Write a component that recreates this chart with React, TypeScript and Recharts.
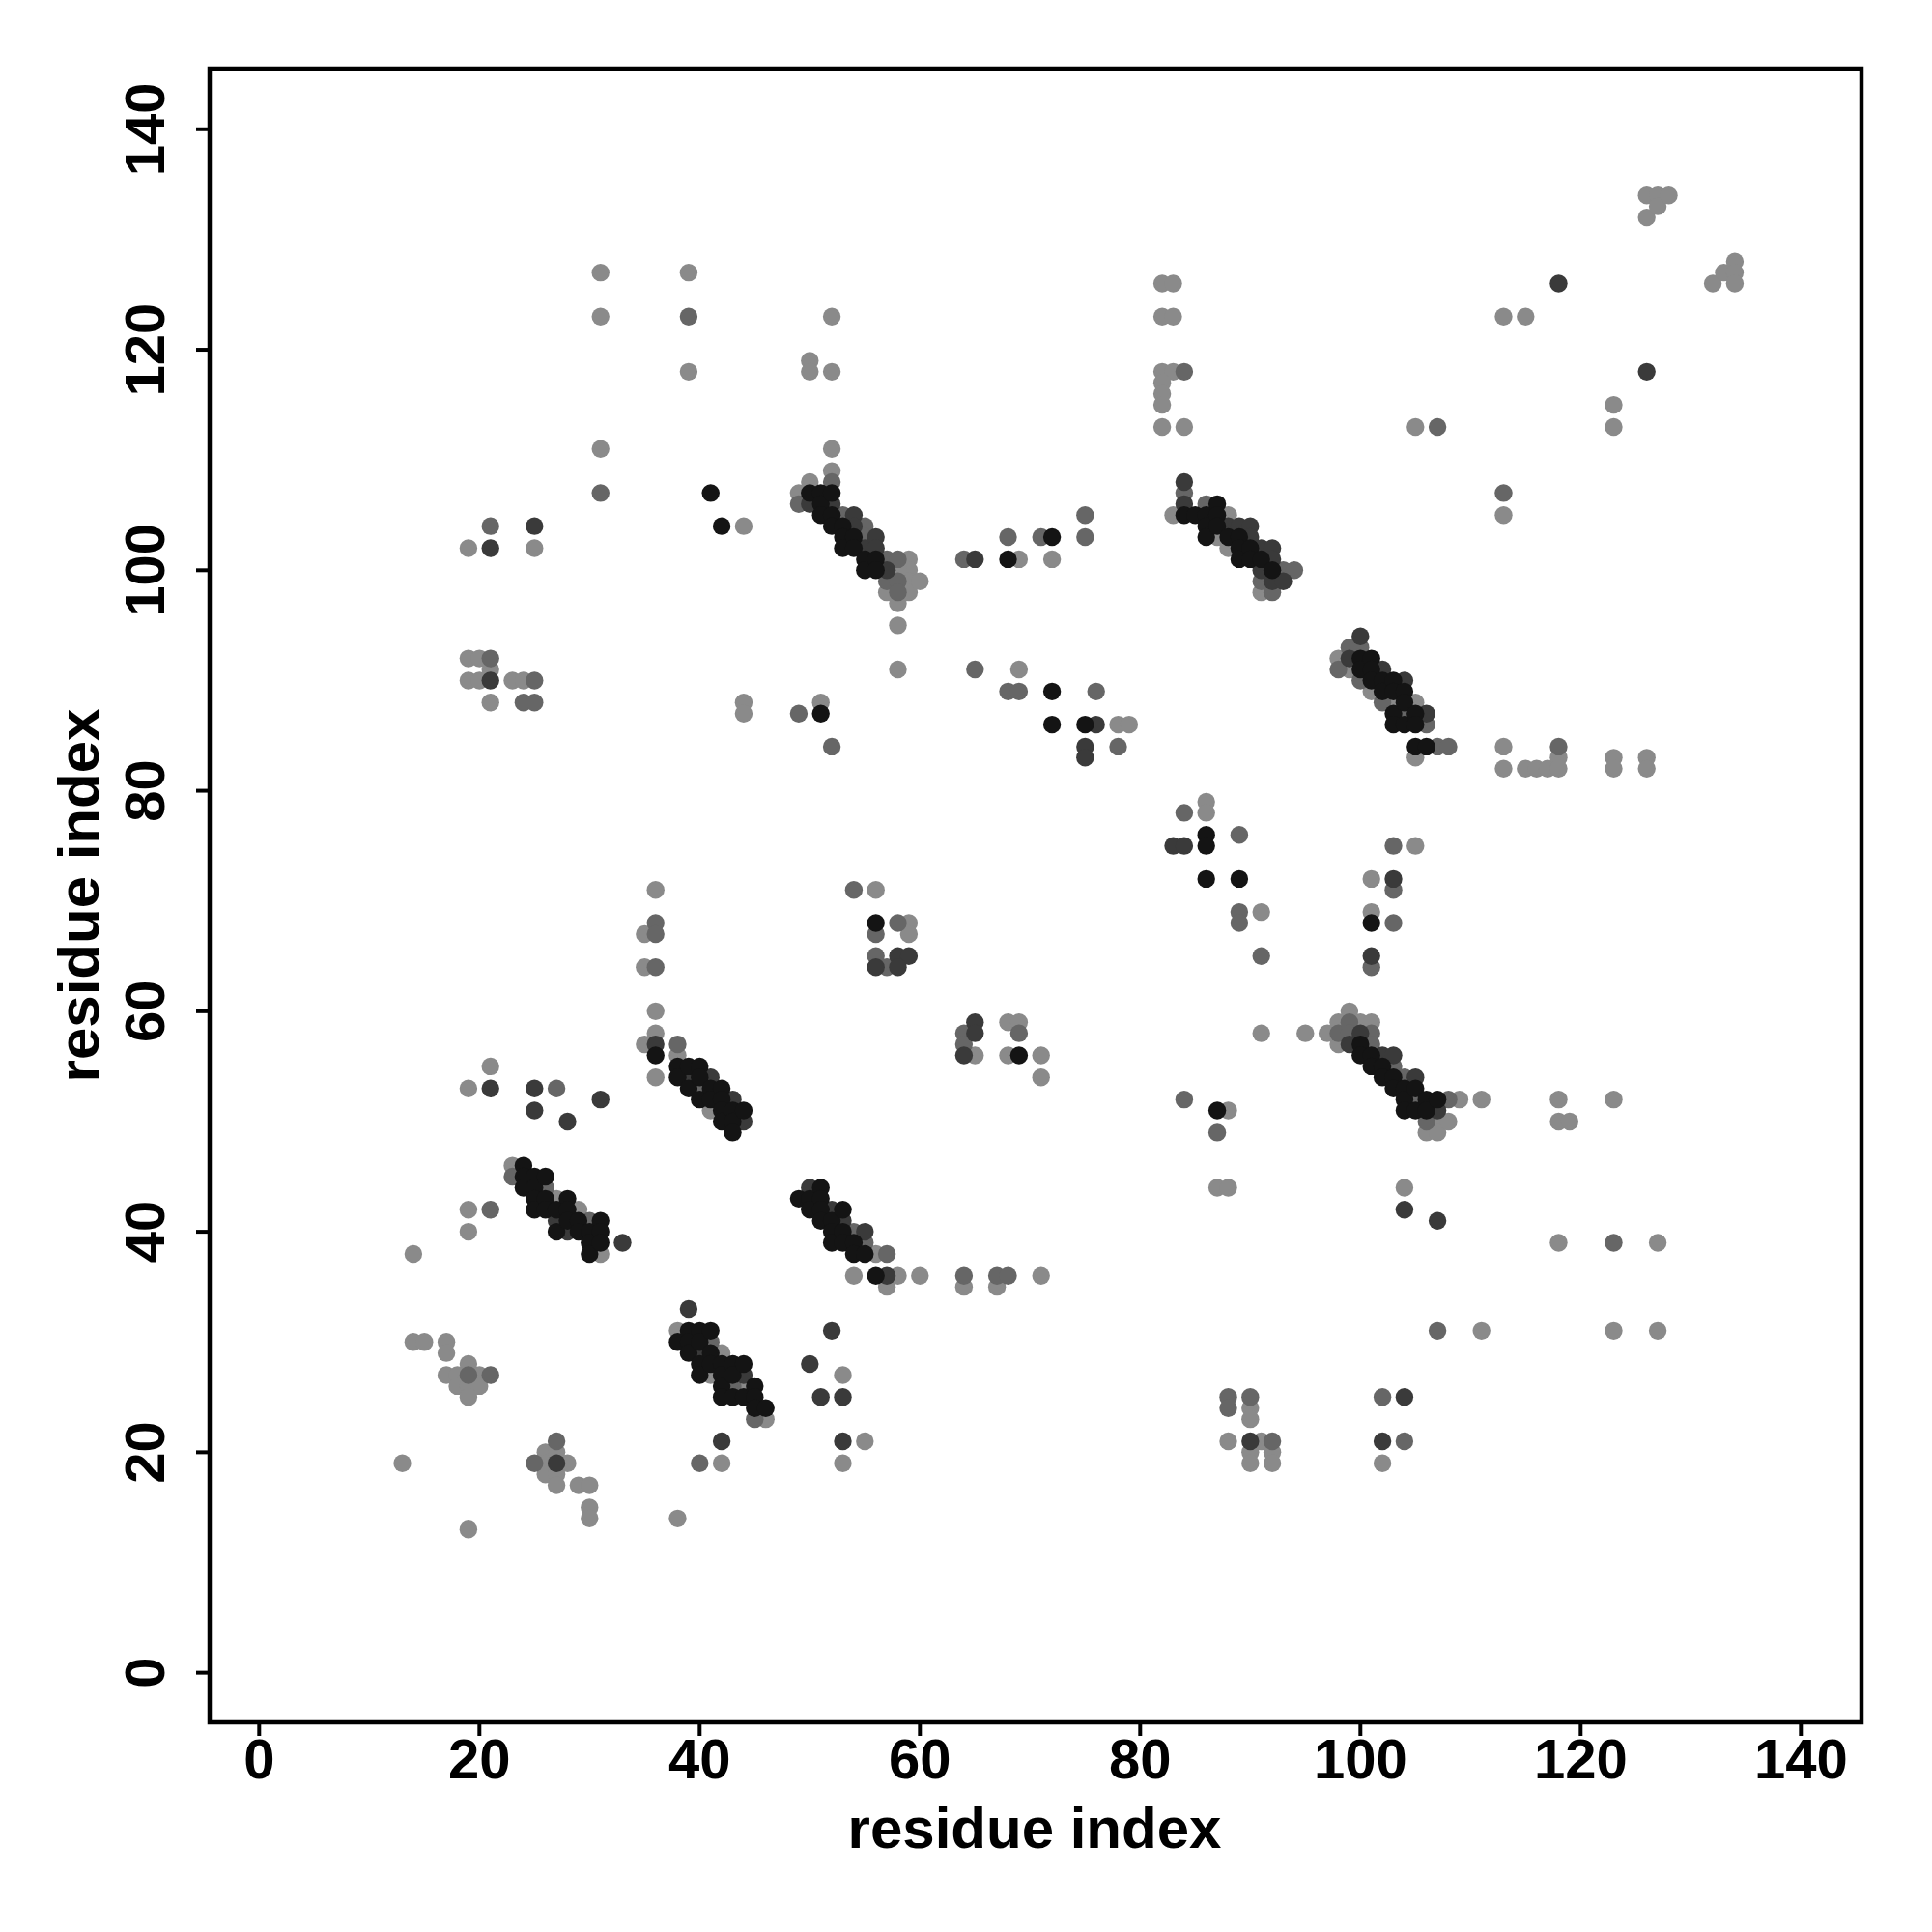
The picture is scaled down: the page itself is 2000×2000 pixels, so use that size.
import { ScatterChart, Scatter, XAxis, YAxis, ReferenceArea } from 'recharts';

// contact pairs [residue i, residue j], grouped by shade
const lightPoints = [
  [31, 127], [31, 123], [31, 111], [39, 127], [39, 118], [19, 102], [25, 102], [44, 104],
  [19, 92], [20, 92], [19, 90], [20, 90], [23, 90], [24, 90], [21, 91], [21, 88],
  [44, 88], [44, 87], [51, 88],
  [49, 107], [50, 108], [57, 98], [58, 97], [58, 95], [59, 101], [59, 100], [59, 99], [59, 98], [60, 99], [58, 100],
  [52, 123], [50, 119], [50, 118], [52, 118], [52, 111], [52, 109],
  [69, 101], [72, 101], [58, 91], [69, 91], [78, 86], [79, 86],
  [82, 126], [83, 126], [82, 123], [83, 123], [82, 118], [83, 118], [82, 117], [82, 116], [82, 115], [82, 113], [84, 113],
  [83, 105], [88, 105], [87, 103], [88, 102], [91, 98],
  [113, 123], [115, 123], [123, 115], [123, 113], [126, 134], [126, 132], [127, 134], [127, 133], [128, 134],
  [132, 126], [133, 127], [134, 128], [134, 127], [134, 126], [105, 113], [113, 105],
  [113, 84], [113, 82], [115, 82], [116, 82], [117, 82], [118, 83], [118, 82], [123, 83], [123, 82], [126, 83], [126, 82],
  [98, 92], [99, 91], [101, 89], [103, 88], [105, 88], [105, 83],
  [86, 79], [86, 78], [91, 69], [105, 75], [101, 72], [101, 69],
  [36, 71], [35, 67], [35, 64], [36, 60], [36, 58], [35, 57], [36, 54], [38, 56],
  [56, 71], [59, 68], [59, 67],
  [68, 59], [69, 59], [65, 56], [68, 56], [71, 56], [71, 54],
  [21, 55], [19, 53], [88, 51], [87, 44], [88, 44],
  [98, 59], [98, 57], [99, 60], [100, 59], [101, 59], [106, 49], [107, 50], [107, 49], [108, 50], [109, 52],
  [91, 58], [95, 58], [97, 58],
  [111, 52], [118, 52], [123, 52], [118, 50], [119, 50], [104, 44], [118, 39], [127, 39], [111, 31], [123, 31], [127, 31],
  [90, 24], [90, 23], [88, 21], [91, 21], [90, 20], [90, 19], [92, 20], [92, 19], [102, 19],
  [19, 42], [19, 40], [14, 38], [14, 30], [15, 30], [17, 30], [17, 29], [19, 28], [17, 27], [18, 27], [20, 27],
  [18, 26], [19, 26], [20, 26], [19, 25], [13, 19], [19, 13], [26, 20], [27, 20], [26, 19], [28, 19], [26, 18],
  [27, 18], [27, 17], [29, 17], [30, 17], [30, 15], [30, 14], [38, 14], [42, 19],
  [53, 27], [53, 19], [55, 21], [41, 51],
  [54, 36], [56, 38], [57, 35], [58, 36], [60, 36], [64, 35], [67, 35], [71, 36],
  [38, 31], [41, 27], [42, 29], [44, 26], [46, 23],
  [23, 46], [27, 43], [29, 42], [31, 38],
];

const midPoints = [
  [31, 107], [39, 123], [21, 104], [21, 92], [25, 90], [24, 88], [25, 88], [49, 87], [52, 84],
  [49, 106], [52, 108], [53, 105], [55, 104], [55, 103], [57, 101], [57, 99], [58, 101], [58, 99], [58, 98],
  [64, 101], [68, 103], [71, 103], [75, 105], [75, 103], [65, 91], [68, 89], [69, 89], [76, 89], [78, 84],
  [84, 118], [84, 107], [86, 106], [91, 99], [92, 98], [93, 100], [94, 100],
  [107, 113], [113, 107], [118, 84],
  [98, 91], [99, 93], [100, 93], [100, 90], [102, 88], [104, 87], [106, 86], [107, 84], [108, 84],
  [84, 78], [89, 76], [89, 69], [89, 68], [91, 65], [103, 75], [103, 71], [103, 68], [101, 64],
  [36, 68], [36, 67], [36, 64], [38, 57],
  [54, 71], [58, 68], [56, 67], [57, 64], [56, 65], [64, 58], [64, 57], [69, 58],
  [27, 53], [84, 52], [87, 49],
  [98, 58], [99, 59], [99, 58], [101, 58], [101, 57], [103, 55], [104, 54], [105, 52], [106, 50], [108, 52],
  [123, 39], [107, 31], [88, 25], [88, 24], [90, 25], [92, 21], [102, 25], [104, 21],
  [21, 42], [19, 27], [21, 27], [27, 21], [25, 19], [40, 19],
  [54, 40], [55, 39], [57, 38], [64, 36], [67, 36], [68, 36],
  [41, 30], [43, 26], [45, 23], [23, 45], [26, 44], [30, 41], [40, 53],
];

const darkPoints = [
  [21, 102], [25, 104], [21, 90],
  [50, 106], [52, 106], [54, 105], [54, 104], [55, 102], [56, 103], [56, 102], [57, 100],
  [65, 101], [76, 86], [75, 84], [75, 83],
  [84, 108], [84, 106], [88, 104], [89, 104], [90, 104], [90, 103], [91, 102], [92, 102], [92, 101], [91, 100], [92, 99], [93, 99],
  [118, 126], [126, 118],
  [99, 92], [100, 94], [102, 91], [104, 90], [106, 87],
  [83, 75], [84, 75], [103, 72], [101, 65], [36, 57],
  [58, 65], [59, 65], [56, 64], [58, 64], [65, 59], [65, 58], [64, 56],
  [21, 53], [25, 53], [25, 51], [28, 50], [31, 52],
  [99, 57], [100, 58], [102, 56], [103, 56], [105, 54], [107, 51],
  [104, 42], [107, 41], [90, 21], [104, 25], [102, 21], [27, 19], [42, 21],
  [52, 31], [50, 28], [51, 25], [53, 25], [53, 21],
  [39, 54], [41, 54], [43, 52], [44, 50],
  [50, 44], [52, 42], [53, 41], [55, 40], [57, 36],
  [39, 33], [40, 29], [44, 27], [27, 41], [28, 40], [33, 39],
];

const blackPoints = [
  [41, 107], [42, 104], [51, 87],
  [50, 107], [51, 107], [51, 106], [51, 105], [52, 107], [52, 105], [52, 104], [53, 104], [53, 103], [53, 102],
  [54, 103], [54, 102], [55, 101], [55, 100], [56, 101], [56, 100],
  [68, 101], [72, 103], [72, 89], [72, 86], [75, 86],
  [84, 105], [85, 105], [86, 105], [86, 104], [86, 103], [87, 106], [87, 105], [87, 104], [88, 103], [89, 103],
  [89, 102], [89, 101], [90, 102], [90, 101], [91, 101], [92, 100],
  [100, 92], [100, 91], [101, 92], [101, 91], [101, 90], [102, 90], [102, 89], [103, 90], [103, 89], [103, 87],
  [103, 86], [104, 89], [104, 88], [104, 86], [105, 87], [105, 86], [105, 84], [106, 84],
  [86, 76], [86, 75], [86, 72], [89, 72], [101, 68], [36, 56], [56, 68], [69, 56], [87, 51],
  [100, 57], [100, 56], [101, 56], [101, 55], [102, 55], [102, 54], [103, 54], [103, 53], [104, 53], [104, 52],
  [104, 51], [105, 53], [105, 51], [106, 52], [106, 51], [107, 52],
  [38, 55], [38, 54], [39, 55], [39, 53], [40, 55], [40, 54], [40, 52], [41, 53], [41, 52], [42, 53], [42, 52],
  [42, 51], [42, 50], [43, 51], [43, 50], [43, 49], [44, 51],
  [49, 43], [50, 43], [50, 42], [51, 44], [51, 43], [51, 42], [51, 41], [52, 41], [52, 40], [52, 39], [53, 42],
  [53, 40], [53, 39], [54, 39], [54, 38], [55, 38], [56, 36],
  [38, 30], [39, 31], [39, 30], [39, 29], [40, 31], [40, 30], [40, 28], [40, 27], [41, 31], [41, 29], [41, 28],
  [42, 28], [42, 27], [42, 26], [42, 25], [43, 28], [43, 27], [43, 25], [44, 28], [44, 25], [45, 26], [45, 25],
  [45, 24], [46, 24],
  [24, 46], [24, 45], [24, 44], [25, 45], [25, 44], [25, 43], [25, 42], [26, 45], [26, 43], [26, 42], [27, 42],
  [27, 40], [28, 43], [28, 42], [28, 41], [29, 41], [29, 40], [30, 40], [30, 39], [30, 38], [31, 41], [31, 40], [31, 39],
];

const axisTicks = [0, 20, 40, 60, 80, 100, 120, 140];
const axisTitle = 'residue index';

const FONT = '"Liberation Sans", Arial, Helvetica, sans-serif';
const DOMAIN: [number, number] = [-4.5, 145.5];

const toXY = (pts: number[][]) => pts.map(([x, y]) => ({ x, y }));

const dot = (fill: string) => (props: any) => (
  <circle cx={props.cx} cy={props.cy} r={9.2} fill={fill} />
);

const XTick = ({ x, payload }: any) => (
  <text x={x} y={1833} textAnchor="middle" fontFamily={FONT} fontWeight="bold" fontSize={58} fill="#000">
    {payload.value}
  </text>
);

const YTick = ({ y, payload }: any) => (
  <text
    x={162}
    y={y}
    transform={`rotate(-90 162 ${y})`}
    textAnchor="middle"
    fontFamily={FONT}
    fontWeight="bold"
    fontSize={58}
    fill="#000"
  >
    {payload.value}
  </text>
);

export default function App() {
  return (
    <div style={{ position: 'relative', width: 2000, height: 1992 }}>
      <ScatterChart width={2000} height={1992} margin={{ top: 63, right: 81, bottom: 0, left: 0 }}>
        <XAxis
          type="number"
          dataKey="x"
          domain={DOMAIN}
          ticks={axisTicks}
          allowDataOverflow
          height={217}
          axisLine={false}
          tickLine={{ stroke: '#000', strokeWidth: 4 }}
          tickSize={14}
          tick={<XTick />}
        />
        <YAxis
          type="number"
          dataKey="y"
          domain={DOMAIN}
          ticks={axisTicks}
          allowDataOverflow
          width={209}
          axisLine={false}
          tickLine={{ stroke: '#000', strokeWidth: 4 }}
          tickSize={14}
          tick={<YTick />}
        />
        <Scatter data={toXY(lightPoints)} shape={dot('#8a8a8a')} isAnimationActive={false} />
        <Scatter data={toXY(midPoints)} shape={dot('#666666')} isAnimationActive={false} />
        <Scatter data={toXY(darkPoints)} shape={dot('#3a3a3a')} isAnimationActive={false} />
        <Scatter data={toXY(blackPoints)} shape={dot('#141414')} isAnimationActive={false} />
        <ReferenceArea
          x1={DOMAIN[0]}
          x2={DOMAIN[1]}
          y1={DOMAIN[0]}
          y2={DOMAIN[1]}
          fill="none"
          fillOpacity={0}
          stroke="#000"
          strokeWidth={4.5}
          ifOverflow="visible"
        />
      </ScatterChart>
      <svg
        width={2000}
        height={1992}
        style={{ position: 'absolute', left: 0, top: 0, pointerEvents: 'none' }}
      >
        <text x={1063} y={1905} textAnchor="middle" fontFamily={FONT} fontWeight="bold" fontSize={60} fill="#000">
          {axisTitle}
        </text>
        <text
          x={94}
          y={919}
          transform="rotate(-90 94 919)"
          textAnchor="middle"
          fontFamily={FONT}
          fontWeight="bold"
          fontSize={60}
          fill="#000"
        >
          {axisTitle}
        </text>
      </svg>
    </div>
  );
}
